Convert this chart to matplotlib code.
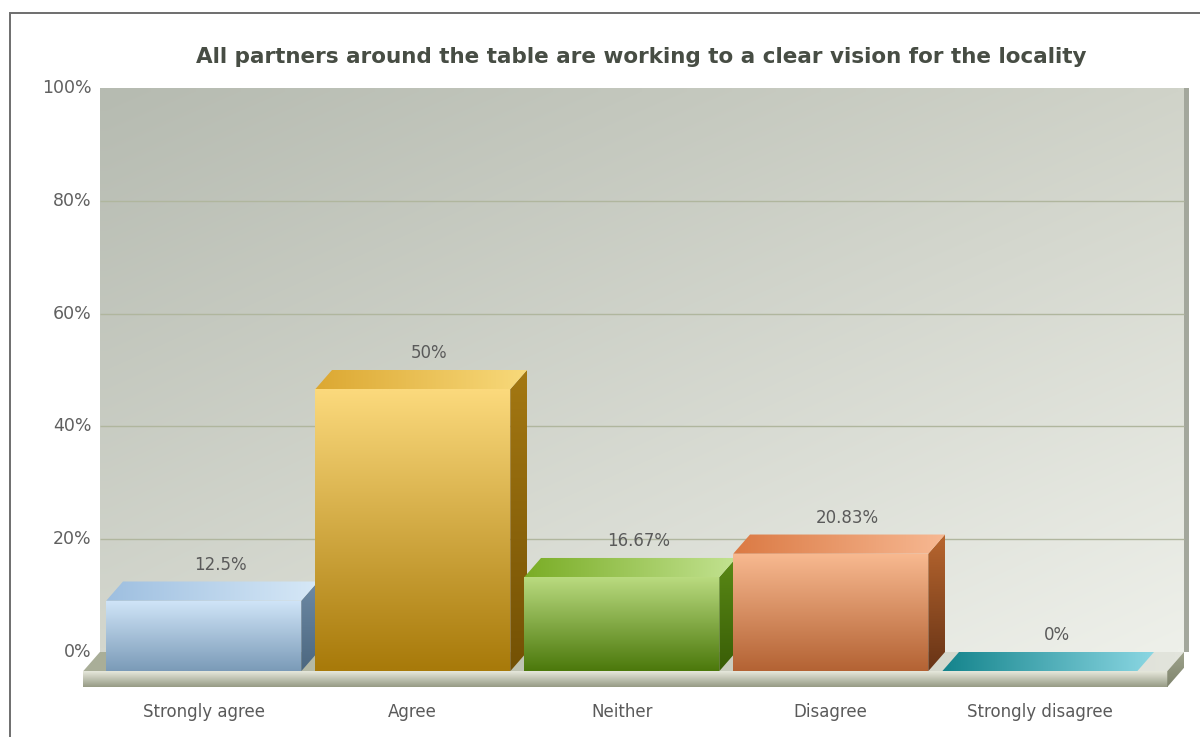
import numpy as np
import matplotlib
matplotlib.use("Agg")
import matplotlib.pyplot as plt
from matplotlib.patches import Polygon, Rectangle
from matplotlib.colors import to_rgb

# survey responses
categories = ["Strongly agree", "Agree", "Neither", "Disagree", "Strongly disagree"]
values = [12.5, 50, 16.67, 20.83, 0]
value_labels = ["12.5%", "50%", "16.67%", "20.83%", "0%"]
y_ticks = [0, 20, 40, 60, 80, 100]
title = "All partners around the table are working to a clear vision for the locality"

# (front top, front bottom, side top, side bottom, lid left, lid right)
bar_colors = [
    ("#d0e5f8", "#7b9bb8", "#6d8aa5", "#4c6780", "#9ebfe0", "#d6e8f7"),
    ("#fbd97c", "#a87a0a", "#a47812", "#745104", "#dca832", "#f8d97a"),
    ("#badb80", "#4c790c", "#5a8a16", "#395d06", "#7aad26", "#c2e290"),
    ("#f8b990", "#b46334", "#b8662f", "#683416", "#db7a44", "#f7b892"),
    ("#4fb8c0", "#1f8c94", "#1f8c94", "#1f8c94", "#14848c", "#8ad6e2"),
]

# 3d depth of bars / floor in data units
DX = -0.08
DY = -3.4
BAR_W = 0.933
SLAB = 2.8
WALL_L, WALL_R = -0.577, 4.61

# pixel scale of the plot area
PX_X, X0 = 209.0, 220.5
PX_Y, Y0 = 5.64, 652.0
XLIM = (-0.70, 4.65)
YLIM = (-7.0, 100.0)
W, H = 1200, 737


def lerp(c1, c2, n):
    a = np.array(to_rgb(c1))
    b = np.array(to_rgb(c2))
    t = np.linspace(0, 1, n)[:, None]
    return a + (b - a) * t


def gradient_fill(ax, patch, c1, c2, vertical=True, z=2):
    """Fill a patch with a linear gradient, c1 at top (or left), c2 at bottom (or right)."""
    ax.add_patch(patch)
    patch.set_facecolor("none")
    patch.set_edgecolor("none")
    verts = patch.get_verts()
    verts = ax.transData.inverted().transform(verts)
    x0, x1 = verts[:, 0].min(), verts[:, 0].max()
    y0, y1 = verts[:, 1].min(), verts[:, 1].max()
    cols = lerp(c1, c2, 64)
    img = cols[:, None, :] if vertical else cols[None, :, :]
    im = ax.imshow(img, extent=(x0, x1, y0, y1), origin="upper", aspect="auto",
                   interpolation="bilinear", zorder=z)
    im.set_clip_path(patch)
    return im


fig = plt.figure(figsize=(12, 7.37), dpi=100)
fig.patch.set_facecolor("white")

left = (X0 + XLIM[0] * PX_X) / W
right = (X0 + XLIM[1] * PX_X) / W
bottom = 1 - (Y0 - YLIM[0] * PX_Y) / H
top = 1 - (Y0 - YLIM[1] * PX_Y) / H
ax = fig.add_axes([left, bottom, right - left, top - bottom])
ax.set_xlim(*XLIM)
ax.set_ylim(*YLIM)
ax.axis("off")

# outer frame
fig.patches.append(Rectangle((10 / W, -0.1), 1.2, 1 - 13 / H + 0.1, transform=fig.transFigure,
                             fill=False, edgecolor="#6e6e6e", linewidth=1.4))

# back wall with diagonal gradient
tl, tr = np.array(to_rgb("#b6bbb1")), np.array(to_rgb("#d0d3c9"))
bl, br = np.array(to_rgb("#d4d7ce")), np.array(to_rgb("#eef0ea"))
u = np.linspace(0, 1, 80)[None, :, None]
v = np.linspace(0, 1, 80)[:, None, None]
wall = (tl * (1 - u) + tr * u) * (1 - v) + (bl * (1 - u) + br * u) * v
ax.imshow(wall, extent=(WALL_L, WALL_R, 0, 100), origin="upper", aspect="auto",
          interpolation="bilinear", zorder=0)
ax.add_patch(Rectangle((WALL_R, 0), 0.025, 100, facecolor="#a3a79c", edgecolor="none", zorder=0.5))

for t in y_ticks[1:-1]:
    ax.hlines(t, WALL_L, WALL_R, color="#b0b69e", linewidth=1.0, zorder=1)
for t in y_ticks:
    ax.text(WALL_L - 0.04, t, f"{t}%", ha="right", va="center",
            fontsize=12.5, color="#606060", zorder=5)

# floor slab
floor_top = Polygon([(WALL_L, 0), (WALL_R, 0), (WALL_R + DX, DY), (WALL_L + DX, DY)])
gradient_fill(ax, floor_top, "#a9ae98", "#e2e4dc", vertical=False, z=1.5)
slab_front = Rectangle((WALL_L + DX, DY - SLAB), WALL_R - WALL_L, SLAB)
gradient_fill(ax, slab_front, "#e6e8dc", "#979b85", vertical=True, z=1.6)
slab_end = Polygon([(WALL_R + DX, DY), (WALL_R, 0), (WALL_R, -SLAB), (WALL_R + DX, DY - SLAB)])
gradient_fill(ax, slab_end, "#9ea38c", "#7f846d", vertical=True, z=1.6)

# bars: front face from ax.bar, lid and side as polygons
xs = np.arange(len(categories))
fronts = ax.bar(xs + DX, values, width=BAR_W, bottom=DY, color="none", edgecolor="none", zorder=2)
for i, (rect, val, cols) in enumerate(zip(fronts, values, bar_colors)):
    ft, fb, st, sb, ll, lr = cols
    xl, xr = i - BAR_W / 2, i + BAR_W / 2
    if val > 0:
        gradient_fill(ax, Rectangle((rect.get_x(), rect.get_y()), rect.get_width(), rect.get_height()),
                      ft, fb, vertical=True, z=3)
        side = Polygon([(xr + DX, DY), (xr, 0), (xr, val), (xr + DX, val + DY)])
        gradient_fill(ax, side, st, sb, vertical=True, z=3)
    lid = Polygon([(xl + DX, val + DY), (xr + DX, val + DY), (xr, val), (xl, val)])
    gradient_fill(ax, lid, ll, lr, vertical=False, z=3)
    ax.text(i, val + 3.0, value_labels[i], ha="center", va="center",
            fontsize=12, color="#5a5a5a", zorder=5)
    ax.text(i + DX, YLIM[0] - 3.6, categories[i], ha="center", va="center",
            fontsize=12, color="#5a5a5a", clip_on=False)

fig.text(641 / W, 1 - 57 / H, title, ha="center", va="center", fontsize=15.5,
         fontweight="bold", color="#474d44")

fig.savefig("out.png", dpi=100)
